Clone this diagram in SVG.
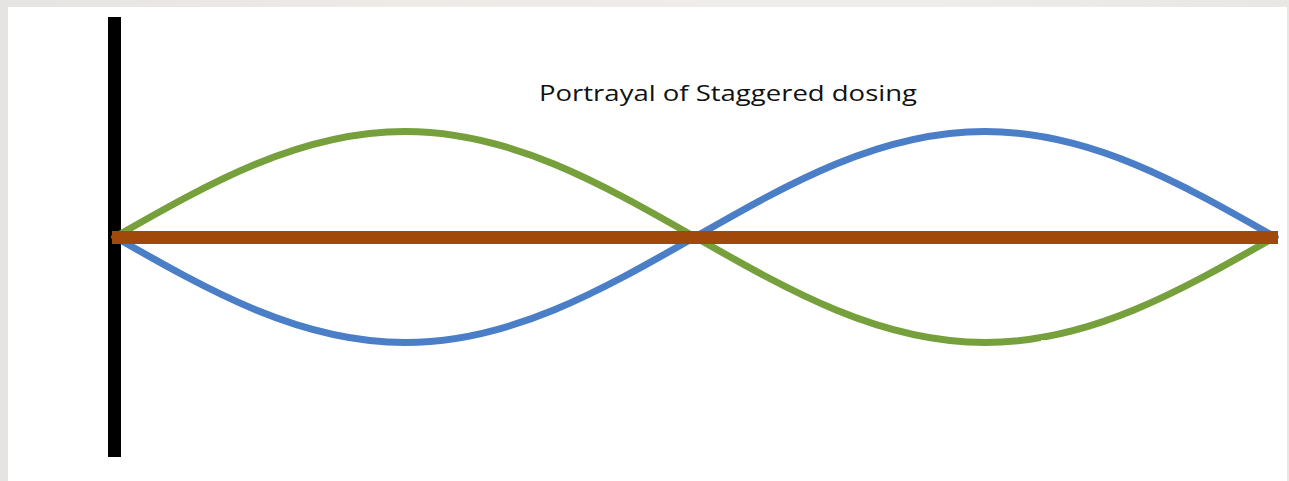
<svg xmlns="http://www.w3.org/2000/svg" width="1289" height="481" viewBox="0 0 1289 481">
  <defs>
    <linearGradient id="topband" x1="0" y1="0" x2="1" y2="0">
      <stop offset="0" stop-color="#E6E4E2"/>
      <stop offset="0.3" stop-color="#EEEAE6"/>
      <stop offset="0.7" stop-color="#EFEDEA"/>
      <stop offset="1" stop-color="#E9E7E4"/>
    </linearGradient>
    <style>
      .wave { fill: none; stroke-width: 7; stroke-linecap: round; }
      .green { stroke: #76A03C; }
      .blue { stroke: #4A7EC7; }
      .title { font-family: "Open Sans", "Liberation Sans", sans-serif; font-size: 22px; fill: #111111; }
    </style>
  </defs>
  <rect x="0" y="0" width="1289" height="481" fill="url(#topband)"/>
  <rect x="8" y="7" width="1279" height="474" fill="#FFFFFF"/>

  <g id="axis">
    <rect x="108" y="17" width="13" height="440" fill="#000000"/>
  </g>

  <g id="title">
    <text class="title" x="539" y="101" textLength="378" lengthAdjust="spacingAndGlyphs">Portrayal of Staggered dosing</text>
  </g>

  <g id="connectors">
    <path id="green-wave" class="wave green" d="M115,237 C209.6,183 300,131.5 405,131.5 C510,131.5 600.4,183 695,237 C789.6,291 880,342.5 985,342.5 C1090,342.5 1180.4,291 1275,237"/>
    <path id="blue-wave" class="wave blue" d="M115,237 C209.6,291 300,342.5 405,342.5 C510,342.5 600.4,291 695,237 C789.6,183 880,131.5 985,131.5 C1090,131.5 1180.4,183 1275,237"/>
    <rect x="1041" y="340" width="246" height="141" fill="#FFFFFF"/>
    <rect id="baseline" x="112" y="231" width="1166" height="13" fill="#A0490A"/>
  </g>
</svg>
